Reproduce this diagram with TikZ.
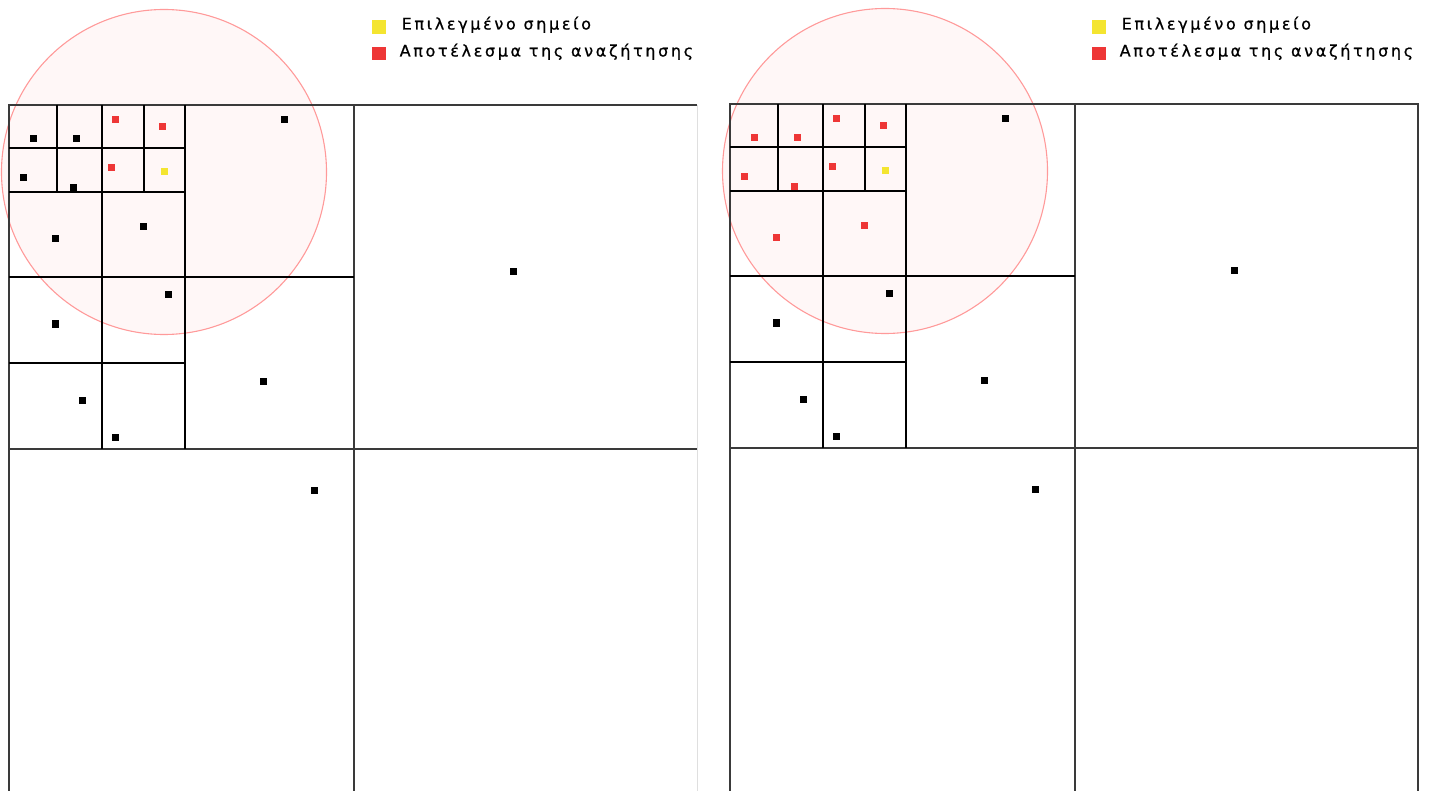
\documentclass[tikz,border=0pt]{standalone}
\usepackage{fontspec}
\setmainfont{DejaVu Sans}
\usetikzlibrary{positioning}

\definecolor{resred}{HTML}{EE3636}
\definecolor{selyellow}{HTML}{F4E530}
\definecolor{ringred}{HTML}{FF9A9A}
\definecolor{ringfill}{HTML}{FFF7F7}
\definecolor{edgegray}{HTML}{3A3A3A}

\begin{document}
\begin{tikzpicture}[x=1pt,y=-1pt,
  pt/.style={rectangle,inner sep=0pt,minimum size=7pt,fill=black},
  res/.style={pt,fill=resred},
  sel/.style={pt,fill=selyellow},
  key/.style={rectangle,inner sep=0pt,minimum size=13.5pt},
  keytext/.style={anchor=base west,inner sep=0pt,
    font={\fontsize{16}{18}\selectfont\addfontfeature{LetterSpace=16.5,FakeBold=0.8}}},
  outer/.style={line width=1.4pt,draw=edgegray},
  split/.style={line width=2.7pt,draw=black}]
\useasboundingbox (0,0) rectangle (1431,791);

% left: quadtree before the search
\draw[ringred,fill=ringfill,line width=1.1pt] (164,172) circle[radius=162.5];

\draw[outer] (9,795) -- (9,105) -- (697,105);
\draw[line width=1pt,draw=gray!25] (697,105) -- (697,795);
\draw[outer] (354,105) -- (354,795);
\draw[outer] (9,449) -- (697,449);
\draw[split] (185,105) -- (185,449);
\draw[split] (9,277) -- (354,277);
\draw[split] (102,105) -- (102,449);
\draw[split] (9,192) -- (185,192);
\draw[split] (9,363) -- (185,363);
\draw[split] (9,148) -- (185,148);
\draw[split] (57,105) -- (57,192);
\draw[split] (144,105) -- (144,192);

\node[pt] (l1) at (33,139) {};
\node[pt] (l2) at (76,139) {};
\node[res] (l3) at (115,120) {};
\node[res] (l4) at (162,127) {};
\node[pt] (l5) at (23,178) {};
\node[pt] (l6) at (73,188) {};
\node[res] (l7) at (111,168) {};
\node[sel] (l8) at (164,172) {};
\node[pt] (l9) at (55,239) {};
\node[pt] (l10) at (143,227) {};
\node[pt] (l11) at (284,120) {};
\node[pt] (l12) at (168,295) {};
\node[pt] (l13) at (55,324) {};
\node[pt] (l14) at (263,381) {};
\node[pt] (l15) at (82,400) {};
\node[pt] (l16) at (115,437) {};
\node[pt] (l17) at (513,272) {};
\node[pt] (l18) at (314,490) {};

\node[key,fill=selyellow] (lselkey) at (379,27) {};
\node[keytext] (lseltext) at (401.5,29.5) {Επιλεγμένο σημείο};
\node[key,fill=resred] (lreskey) at (379,53.5) {};
\node[keytext] (lrestext) at (399.5,56.5) {Αποτέλεσμα της αναζήτησης};

% right: quadtree after the search
\begin{scope}[xshift=721pt,yshift=1pt]
\draw[ringred,fill=ringfill,line width=1.1pt] (164,172) circle[radius=162.5];

\draw[outer] (9,795) -- (9,105) -- (697,105) -- (697,795);
\draw[outer] (354,105) -- (354,795);
\draw[outer] (9,449) -- (697,449);
\draw[split] (185,105) -- (185,449);
\draw[split] (9,277) -- (354,277);
\draw[split] (102,105) -- (102,449);
\draw[split] (9,192) -- (185,192);
\draw[split] (9,363) -- (185,363);
\draw[split] (9,148) -- (185,148);
\draw[split] (57,105) -- (57,192);
\draw[split] (144,105) -- (144,192);

\node[res] (r1) at (33,139) {};
\node[res] (r2) at (76,139) {};
\node[res] (r3) at (115,120) {};
\node[res] (r4) at (162,127) {};
\node[res] (r5) at (23,178) {};
\node[res] (r6) at (73,188) {};
\node[res] (r7) at (111,168) {};
\node[sel] (r8) at (164,172) {};
\node[res] (r9) at (55,239) {};
\node[res] (r10) at (143,227) {};
\node[pt] (r11) at (284,120) {};
\node[pt] (r12) at (168,295) {};
\node[pt] (r13) at (55,324) {};
\node[pt] (r14) at (263,381) {};
\node[pt] (r15) at (82,400) {};
\node[pt] (r16) at (115,437) {};
\node[pt] (r17) at (513,272) {};
\node[pt] (r18) at (314,490) {};

\node[key,fill=selyellow] (rselkey) at (378,28) {};
\node[keytext] (rseltext) at (400.5,30.5) {Επιλεγμένο σημείο};
\node[key,fill=resred] (rreskey) at (378,54.5) {};
\node[keytext] (rrestext) at (398.5,57.5) {Αποτέλεσμα της αναζήτησης};
\end{scope}
\end{tikzpicture}
\end{document}
